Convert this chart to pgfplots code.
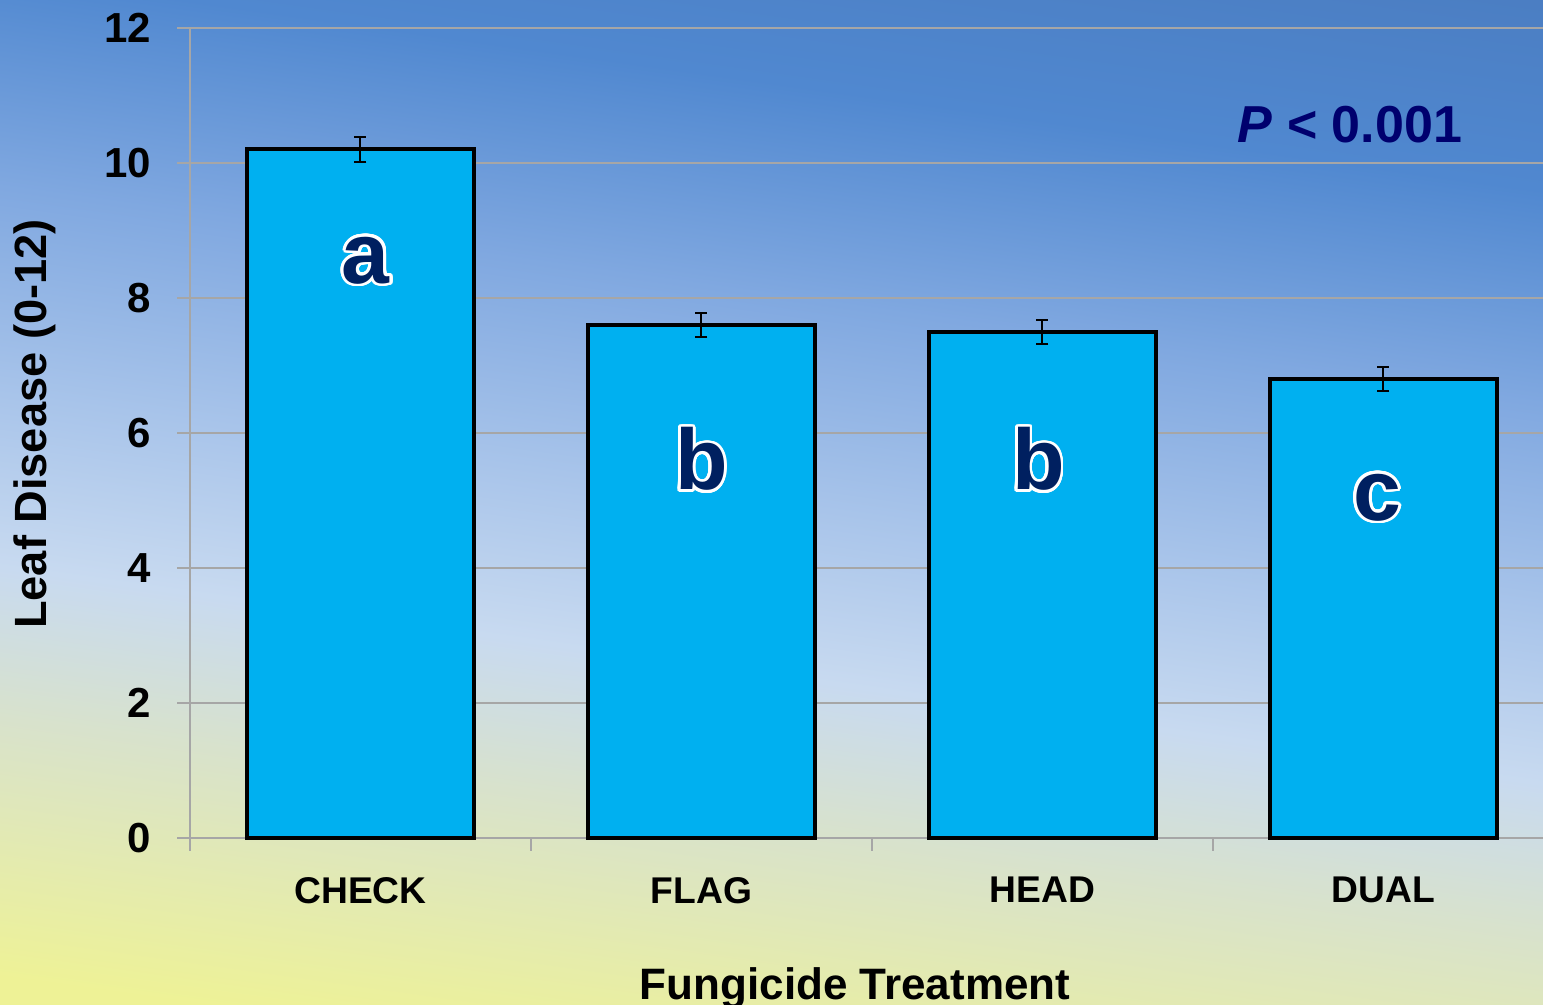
\documentclass[border=0pt]{standalone}
\usepackage{pgfplots}
\pgfplotsset{compat=1.18}
\usepackage{fontspec}
\setmainfont{Liberation Sans}
\usepackage{contour}
\contourlength{0.7pt}
\contournumber{32}
\definecolor{barblue}{HTML}{00B0F0}
\definecolor{letnavy}{HTML}{002060}
\definecolor{pnavy}{HTML}{00006E}
\definecolor{gridgray}{HTML}{A6A6A6}
% background stops, bottom to top
\definecolor{bgA}{HTML}{EEF296}
\definecolor{bgB}{HTML}{D8E2CC}
\definecolor{bgC}{HTML}{C8DAF0}
\definecolor{bgD}{HTML}{A8C4EA}
\definecolor{bgE}{HTML}{80A8E0}
\definecolor{bgF}{HTML}{5088D0}
\definecolor{bgG}{HTML}{4A7CC0}
\pgfdeclareverticalshading{slide}{100bp}{color(0bp)=(bgA); color(23bp)=(bgA);
  color(35bp)=(bgB); color(42bp)=(bgC); color(50bp)=(bgD);
  color(59.6bp)=(bgE); color(69.5bp)=(bgF); color(80bp)=(bgG); color(100bp)=(bgG)}
\newcommand{\grp}[1]{\contour{white}{\textcolor{letnavy}{#1}}}

\begin{document}
\begin{tikzpicture}
\useasboundingbox (0,0) rectangle (385.75pt,251.25pt);
\shade[shading=slide, shading angle=-8] (0,0) rectangle (385.75pt,251.25pt);
\begin{axis}[
    at={(47.5pt,41.75pt)}, anchor=south west,
    scale only axis, width=338.25pt, height=202.5pt,
    ymin=0, ymax=12, ytick={0,2,...,12},
    xmin=-0.5, xmax=3.468,
    xtick={-0.5,0.5,1.5,2.5}, xticklabels={},
    extra x ticks={0,1,2,3},
    extra x tick labels={CHECK,FLAG,HEAD,DUAL},
    extra x tick style={major tick length=0pt, grid=none},
    axis lines*=left,
    axis line style={gridgray, line width=0.6pt},
    tick style={gridgray, line width=0.6pt},
    ymajorgrids, grid style={gridgray, line width=0.6pt},
    tick align=outside, major tick length=3.25pt,
    ybar, bar width=56.75pt,
    /pgf/number format/assume math mode=true,
    yticklabel style={font=\bfseries\fontsize{10.5}{12}\selectfont, black, xshift=-3pt},
    xticklabel style={font=\bfseries\fontsize{9.3}{11}\selectfont, black, yshift=-6.25pt},
    ylabel={Leaf Disease (0-12)},
    ylabel style={font=\bfseries\fontsize{11.3}{13}\selectfont, black,
      at={(axis description cs:-0.1146,0.511)}, anchor=center},
    xlabel={Fungicide Treatment},
    xlabel style={font=\bfseries\fontsize{11}{13}\selectfont, black,
      at={(axis description cs:0.4915,-0.185)}, anchor=center},
    clip=false,
]
\addplot[fill=barblue, draw=black, line width=1pt,
    error bars/.cd, y dir=both, y explicit,
    error bar style={black, line width=0.5pt},
    error mark options={rotate=90, mark size=1.5pt, black, line width=0.5pt}]
  coordinates {(0,10.2) +- (0,0.18) (1,7.6) +- (0,0.18) (2,7.5) +- (0,0.18) (3,6.8) +- (0,0.18)};

\node[anchor=base, font=\bfseries\fontsize{21.5}{24}\selectfont] at (axis cs:0.015,8.22) {\grp{a}};
\node[anchor=base, font=\bfseries\fontsize{21.5}{24}\selectfont] at (axis cs:1,5.156) {\grp{b}};
\node[anchor=base, font=\bfseries\fontsize{21.5}{24}\selectfont] at (axis cs:1.988,5.156) {\grp{b}};
\node[anchor=base, font=\bfseries\fontsize{21.5}{24}\selectfont] at (axis cs:2.982,4.71) {\grp{c}};
\node[anchor=base east, inner sep=0pt, font=\bfseries\fontsize{13}{15}\selectfont, text=pnavy] at (axis cs:3.233,10.30) {\textit{P} < 0.001};
\end{axis}
\end{tikzpicture}
\end{document}
